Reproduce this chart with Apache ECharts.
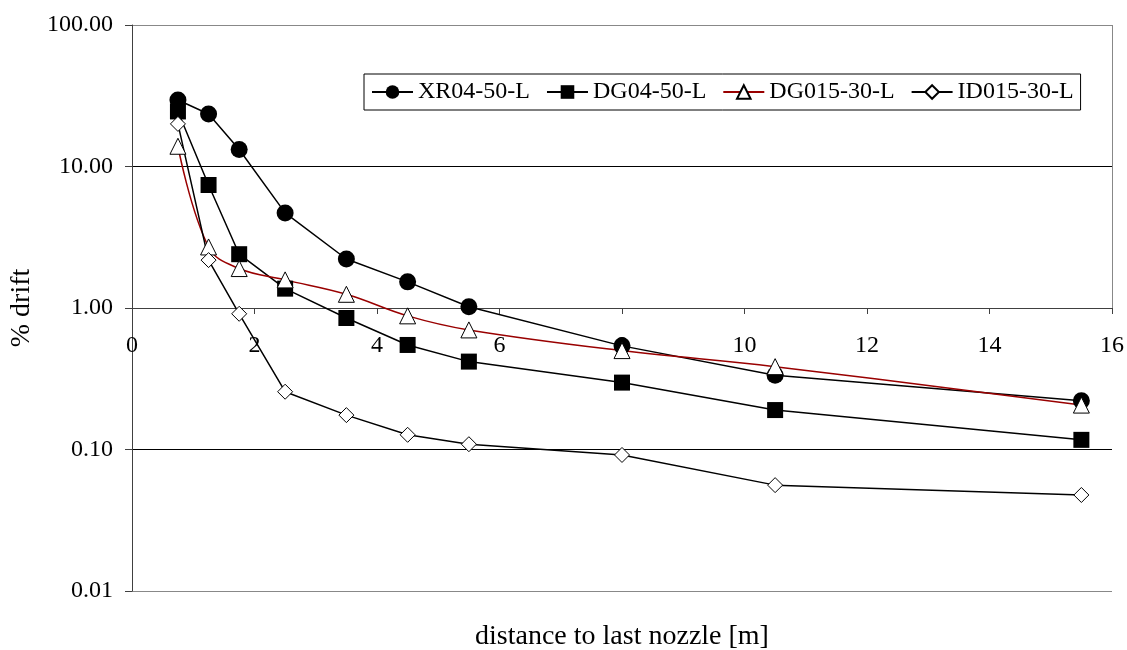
<!DOCTYPE html>
<html>
<head>
<meta charset="UTF-8">
<title>drift</title>
<script src="https://cdn.jsdelivr.net/npm/echarts@6.0.0/dist/echarts.min.js"></script>
<style>
  html, body { margin: 0; padding: 0; background: #fff; }
  #main { width: 1127px; height: 650px; }
</style>
</head>
<body>
<div id="main"></div>
<script type="text/javascript">
    // distance to last nozzle [m]
    var distances = [0.75, 1.25, 1.75, 2.5, 3.5, 4.5, 5.5, 8, 10.5, 15.5];
    // % drift per nozzle type
    var xr0450 = [29.5, 23.5, 13.2, 4.7, 2.22, 1.53, 1.02, 0.54, 0.335, 0.221];
    var dg0450 = [24.5, 7.4, 2.4, 1.37, 0.85, 0.548, 0.418, 0.297, 0.19, 0.117];
    var dg01530 = [13.9, 2.7, 1.9, 1.58, 1.25, 0.88, 0.70, 0.50, 0.385, 0.206];
    var id01530 = [20, 2.18, 0.91, 0.256, 0.175, 0.127, 0.109, 0.0915, 0.056, 0.0477];
    var seriesNames = ['XR04-50-L', 'DG04-50-L', 'DG015-30-L', 'ID015-30-L'];

    var font = '"Liberation Serif", "Times New Roman", serif';
    var yMin = 0.01, yMax = 100, xCross = 1;
    var gridTop = 25, gridBottom = 59, gridHeight = 650 - gridTop - gridBottom;
    // the x axis crosses the value axis at 1.00
    var crossOffset = gridHeight * (Math.log10(xCross) - Math.log10(yMin)) / (Math.log10(yMax) - Math.log10(yMin));

    function pairs(vals) {
        var out = [];
        for (var i = 0; i < distances.length; i++) {
            out.push([distances[i], vals[i]]);
        }
        return out;
    }

    var myChart = echarts.init(document.getElementById('main'));

    var option = {
        animation: false,
        backgroundColor: '#fff',
        textStyle: { fontFamily: font },
        grid: { left: 132, right: 15, top: gridTop, bottom: gridBottom, outerBoundsMode: 'none', containLabel: false },
        legend: {
            left: 364,
            top: 74,
            padding: [6, 7],
            borderColor: '#000',
            borderWidth: 1,
            itemWidth: 41,
            itemHeight: 17,
            itemGap: 16,
            data: seriesNames,
            textStyle: { fontFamily: font, fontSize: 24, color: '#000' }
        },
        xAxis: {
            type: 'value',
            min: 0,
            max: 16,
            interval: 2,
            position: 'bottom',
            offset: -crossOffset,
            name: 'distance to last nozzle [m]',
            nameLocation: 'middle',
            nameGap: crossOffset + 32,
            nameTextStyle: { fontFamily: font, fontSize: 28, color: '#000' },
            axisLine: { lineStyle: { color: '#404040', width: 1 } },
            axisTick: { length: 6, lineStyle: { color: '#404040' } },
            axisLabel: { margin: 26, fontFamily: font, fontSize: 24, color: '#000' },
            splitLine: { show: false }
        },
        yAxis: {
            type: 'log',
            logBase: 10,
            min: yMin,
            max: yMax,
            name: '% drift',
            nameLocation: 'middle',
            nameGap: 87,
            nameTextStyle: { fontFamily: font, fontSize: 28, color: '#000' },
            axisLine: { show: true, lineStyle: { color: '#404040', width: 1 } },
            axisTick: { show: true, length: 7, lineStyle: { color: '#404040' } },
            axisLabel: {
                margin: 19,
                fontFamily: font,
                fontSize: 24,
                color: '#000',
                formatter: function (v) { return v.toFixed(2); }
            },
            splitLine: {
                show: true,
                lineStyle: { color: ['#888888', '#000000', '#000000', '#000000', '#888888'], width: 1 }
            }
        },
        series: [
            {
                name: seriesNames[0],
                type: 'line',
                data: pairs(xr0450),
                symbol: 'circle',
                symbolSize: 17,
                itemStyle: { color: '#000' },
                lineStyle: { color: '#000', width: 1.5 },
                markLine: {
                    silent: true,
                    symbol: 'none',
                    label: { show: false },
                    lineStyle: { color: '#888888', width: 1, type: 'solid' },
                    data: [[{ coord: [16, xCross] }, { coord: [16, yMax] }]]
                }
            },
            {
                name: seriesNames[1],
                type: 'line',
                data: pairs(dg0450),
                symbol: 'rect',
                symbolSize: 16,
                itemStyle: { color: '#000' },
                lineStyle: { color: '#000', width: 1.5 }
            },
            {
                name: seriesNames[2],
                type: 'line',
                data: pairs(dg01530),
                smooth: 0.4,
                symbol: 'triangle',
                symbolSize: 16,
                itemStyle: { color: '#fff', borderColor: '#000', borderWidth: 1 },
                lineStyle: { color: '#990000', width: 1.5 }
            },
            {
                name: seriesNames[3],
                type: 'line',
                data: pairs(id01530),
                symbol: 'diamond',
                symbolSize: [15, 15],
                itemStyle: { color: '#fff', borderColor: '#000', borderWidth: 1 },
                lineStyle: { color: '#000', width: 1.5 }
            }
        ]
    };

    myChart.setOption(option);
</script>
</body>
</html>
